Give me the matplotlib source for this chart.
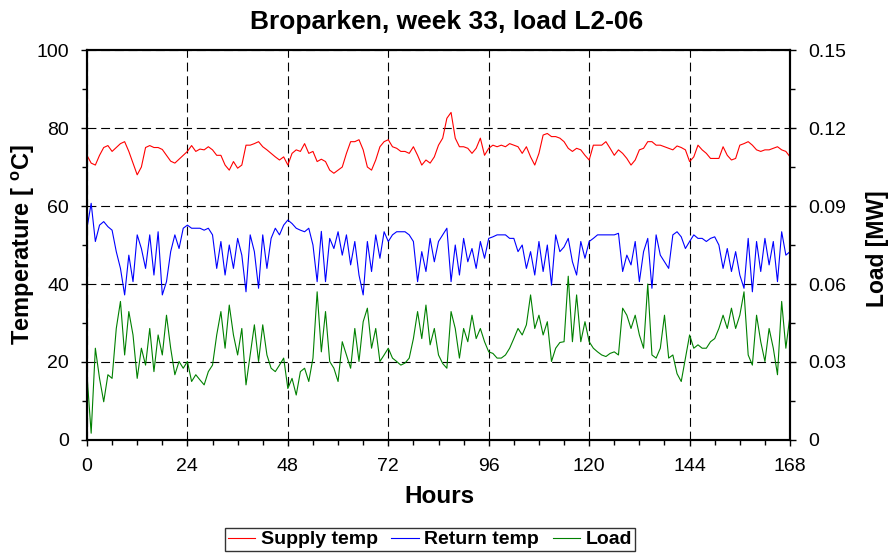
import numpy as np
import matplotlib.pyplot as plt
from matplotlib.ticker import MultipleLocator

plt.rcParams['font.family'] = ['Liberation Sans', 'DejaVu Sans']

# hourly readings, hour 0..168
horas = np.arange(0, 169)

supply_temp = [
    73, 71, 70.5, 73, 75, 75.5, 74, 75, 76, 76.5, 74, 71, 68, 70, 75, 75.5, 75, 75, 74.5, 73,
    71.5, 71, 72, 73, 74, 75.5, 74, 74.6, 74.4, 75.2, 74.4, 73, 73, 70.5, 69.2, 71.4, 69.7, 70.5, 75.6, 75.6,
    76, 76.5, 75.2, 74.4, 73.5, 72.6, 71.8, 72.6, 70.5, 73.5, 74.4, 74, 76, 73.5, 74, 71.4, 72, 71.4, 69.2, 68.4,
    69.2, 70, 73.5, 76.5, 76.5, 77, 74.4, 70, 69.2, 71.8, 75.2, 76.5, 77, 75.2, 74.8, 74, 74, 73.5, 75.2, 73,
    70.5, 71.8, 71, 72.6, 75.6, 77.4, 82.5, 84, 77.4, 75.2, 75.2, 74.8, 73.5, 74.8, 77.4, 73, 74.8, 75.6, 75.2, 75.6,
    75.2, 76, 75.6, 75.2, 73.5, 75.2, 72.6, 70.5, 73.5, 78.2, 78.6, 77.8, 77.8, 77.4, 76.5, 74.8, 74, 74.8, 74.4, 73,
    71.8, 75.6, 75.6, 75.6, 76.5, 74.8, 73, 74.4, 73.5, 72.2, 70.5, 71.8, 74.4, 74.8, 76.5, 76.5, 75.6, 75.6, 75.2, 74.8,
    74.4, 75.4, 75, 74.4, 71.4, 72.6, 75.6, 74.4, 73.5, 72.2, 72.2, 72.2, 75.2, 73, 71.8, 72.2, 75.6, 76, 76.5, 75.6,
    74.4, 74, 74.4, 74.4, 74.8, 75.2, 74.4, 74, 72.6,
]

return_temp = [
    54.3, 60.7, 50.9, 55.1, 56, 54.7, 53.8, 48.3, 44, 37.2, 47.4, 40.6, 52.6, 49.1, 44, 52.6, 42.3, 53.4, 37.2, 40.6,
    48.3, 52.6, 49.1, 54.3, 55.1, 54.3, 54.3, 54.3, 53.8, 54.3, 52.6, 44, 50.9, 42.3, 50, 44, 51.7, 47.4, 38, 52.6,
    48.3, 38.9, 52.6, 44, 51.7, 54.3, 52.6, 55.1, 56.4, 55.5, 54.3, 53.8, 53.4, 54.3, 50, 40.6, 53.5, 40.6, 51.7, 49.1,
    53.4, 47.4, 52.6, 44.9, 50.9, 42.3, 37.2, 50.9, 43.2, 52.6, 46.6, 53.4, 50.9, 52.6, 53.4, 53.4, 53.4, 52.6, 50.9, 40.6,
    48.3, 43.2, 51.7, 45.7, 50.9, 52.6, 54.3, 40.6, 50, 42.3, 51.7, 45.7, 49.1, 44, 50.9, 46.6, 51.7, 52.1, 52.6, 52.6,
    52.6, 51.7, 51.7, 48.3, 50, 44, 48.3, 42.3, 50.9, 43.2, 50, 39.7, 52.6, 48.3, 49.5, 51.7, 45.7, 42.3, 50.9, 46.6,
    50.9, 51.7, 52.6, 52.6, 52.6, 52.6, 52.6, 53, 43.2, 47.4, 44.9, 50.9, 40.6, 48.3, 51.7, 38.9, 52.6, 47.4, 45.7, 44,
    52.6, 53.4, 52.1, 49.1, 50.9, 52.6, 51.7, 51.7, 50.9, 51.7, 52.1, 50, 44, 49.1, 43.2, 48.3, 42.3, 38.9, 51.7, 38,
    50.9, 43.2, 51.7, 44.9, 50.9, 40.6, 53.4, 47.4, 48.3,
]

load_mw = [
    0.0251, 0.0026, 0.0353, 0.0237, 0.0147, 0.0251, 0.0237, 0.0429, 0.0533, 0.0327, 0.0494, 0.0404, 0.0237, 0.0353, 0.0288, 0.0429, 0.0263, 0.0404, 0.0327, 0.0480,
    0.0353, 0.0251, 0.0302, 0.0276, 0.0302, 0.0225, 0.0251, 0.0231, 0.0212, 0.0263, 0.0288, 0.0404, 0.0494, 0.0353, 0.0519, 0.0404, 0.0327, 0.0429, 0.0212, 0.0327,
    0.0443, 0.0302, 0.0443, 0.0327, 0.0276, 0.0263, 0.0288, 0.0315, 0.0198, 0.0237, 0.0173, 0.0263, 0.0276, 0.0225, 0.0315, 0.0570, 0.0339, 0.0494, 0.0302, 0.0276,
    0.0225, 0.0378, 0.0327, 0.0276, 0.0429, 0.0302, 0.0455, 0.0507, 0.0353, 0.0429, 0.0302, 0.0327, 0.0353, 0.0315, 0.0302, 0.0288, 0.0296, 0.0315, 0.0390, 0.0494,
    0.0390, 0.0519, 0.0366, 0.0429, 0.0327, 0.0294, 0.0276, 0.0494, 0.0429, 0.0315, 0.0429, 0.0378, 0.0480, 0.0390, 0.0429, 0.0378, 0.0339, 0.0333, 0.0315, 0.0315,
    0.0327, 0.0353, 0.0390, 0.0429, 0.0404, 0.0443, 0.0558, 0.0429, 0.0480, 0.0404, 0.0455, 0.0302, 0.0353, 0.0375, 0.0378, 0.0630, 0.0378, 0.0558, 0.0378, 0.0455,
    0.0378, 0.0353, 0.0339, 0.0327, 0.0321, 0.0333, 0.0339, 0.0327, 0.0507, 0.0480, 0.0429, 0.0480, 0.0404, 0.0353, 0.0600, 0.0327, 0.0315, 0.0353, 0.0480, 0.0315,
    0.0327, 0.0255, 0.0225, 0.0315, 0.0404, 0.0353, 0.0366, 0.0353, 0.0353, 0.0378, 0.0390, 0.0429, 0.0480, 0.0429, 0.0507, 0.0429, 0.0480, 0.0570, 0.0327, 0.0288,
    0.0480, 0.0378, 0.0302, 0.0429, 0.0353, 0.0251, 0.0533, 0.0353, 0.0480,
]

fig = plt.figure(figsize=(8.93, 5.54), dpi=100)
ax = fig.add_axes([0.0974, 0.2058, 0.7873, 0.7039])
ax2 = ax.twinx()

l1, = ax.plot(horas, supply_temp, color='#ff0000', lw=0.8, label='Supply temp')
l2, = ax.plot(horas, return_temp, color='#0000ff', lw=0.8, label='Return temp')
l3, = ax2.plot(horas, load_mw, color='#008000', lw=0.8, label='Load')

ax.set_xlim(0, 168)
ax.set_ylim(0, 100)
ax2.set_ylim(0, 0.15)

ax.xaxis.set_major_locator(MultipleLocator(24))
ax.xaxis.set_minor_locator(MultipleLocator(6))
ax.yaxis.set_major_locator(MultipleLocator(20))
ax.yaxis.set_minor_locator(MultipleLocator(10))
ax2.set_yticks([0, 0.03, 0.06, 0.09, 0.12, 0.15])
ax2.set_yticklabels(['0', '0.03', '0.06', '0.09', '0.12', '0.15'])
ax2.yaxis.set_minor_locator(MultipleLocator(0.015))

# grelha tracejada so nas marcas principais
ax.grid(True, which='major', color='black', linestyle=(0, (8, 4.3)), linewidth=0.8)

for a in (ax, ax2):
    a.tick_params(which='major', direction='out', length=4, width=1, labelsize=14, pad=9, colors='black')
    a.tick_params(which='minor', direction='out', length=3.5, width=1)
    for s in a.spines.values():
        s.set_linewidth(1.5)

fig.text(0.5, 1 - 22 / 554, 'Broparken, week 33, load L2-06', fontsize=19, fontweight='bold',
         ha='center', va='center')
ax.set_xlabel('Hours', fontsize=17.5, fontweight='bold', va='center')
ax.xaxis.set_label_coords(0.502, -0.146)
ax.set_ylabel('Temperature [ $\\mathregular{^o}$C]', fontsize=17, fontweight='bold', va='center')
ax.yaxis.set_label_coords(-0.091, 0.5)
ax2.set_ylabel('Load [MW]', fontsize=16.5, fontweight='bold', va='center', rotation=90)
ax2.yaxis.set_label_coords(1.1238, 0.49)

leg = fig.legend(handles=[l1, l2, l3], loc='lower center', bbox_to_anchor=(0.4815, 0.005), ncol=3,
                 frameon=True, fancybox=False, edgecolor='black',
                 prop={'weight': 'bold', 'size': 14}, handlelength=1.4, handletextpad=0.3,
                 columnspacing=0.7, borderpad=0.15, borderaxespad=0)
leg.get_frame().set_linewidth(1)

fig.savefig('out.png', dpi=100)
